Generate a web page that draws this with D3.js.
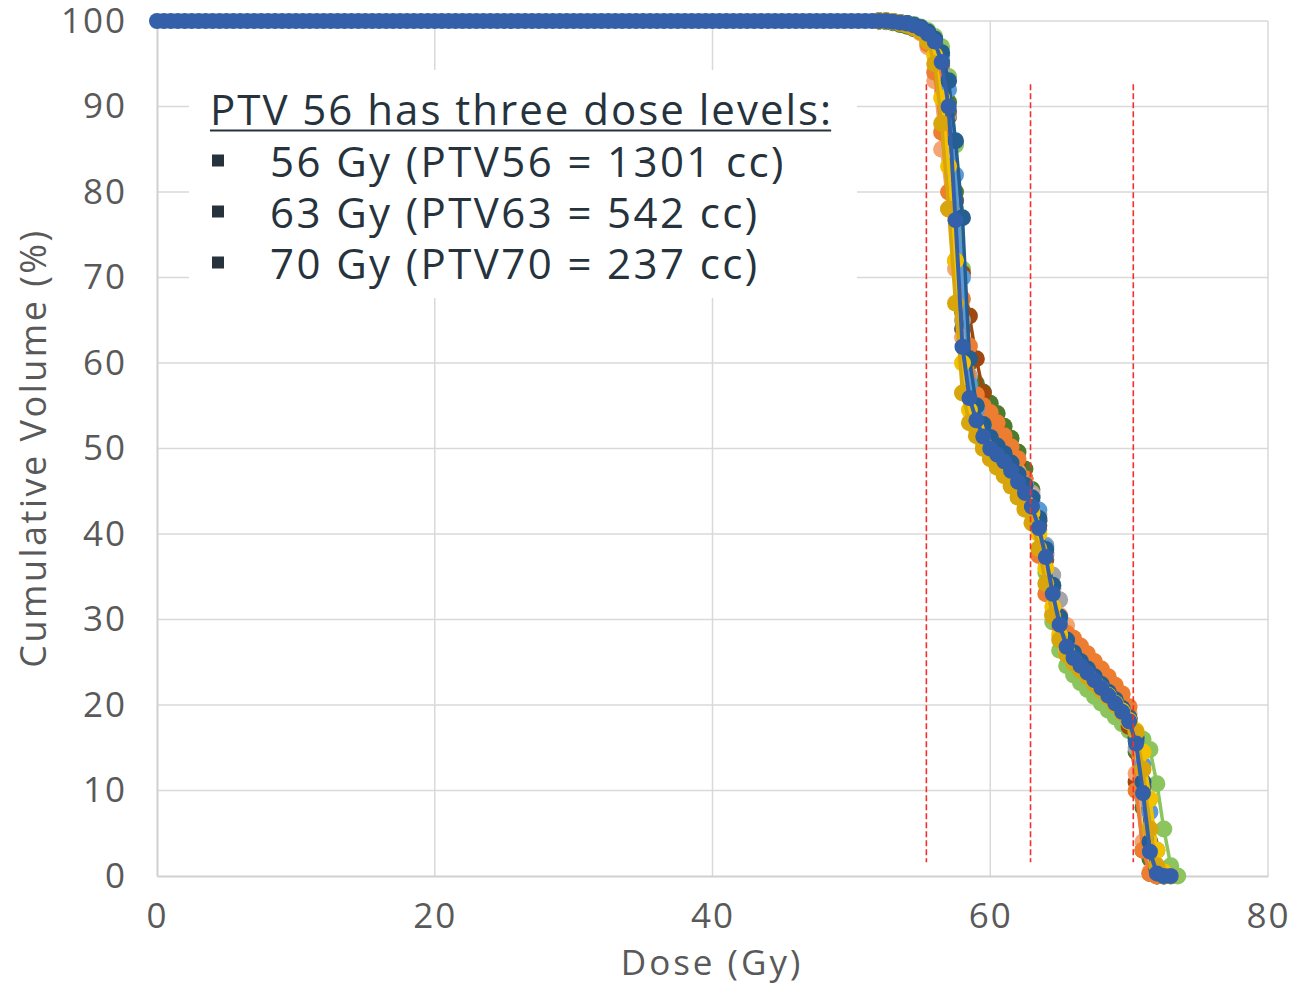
<!DOCTYPE html>
<html>
<head>
<meta charset="utf-8">
<script src="https://cdn.jsdelivr.net/npm/d3@7"></script>
<style>
body { margin: 0; background: #fff; }
svg { display: block; font-family: "Open Sans", sans-serif; }
</style>
</head>
<body>
<svg id="chart" width="1296" height="986"></svg>
<script>
(function () {
'use strict';

// dose grid (Gy)
var plateauDose = [0,0.5,1,1.5,2,2.5,3,3.5,4,4.5,5,5.5,6,6.5,7,7.5,8,8.5,9,9.5,
	10,10.5,11,11.5,12,12.5,13,13.5,14,14.5,15,15.5,16,16.5,17,17.5,18,18.5,19,19.5,
	20,20.5,21,21.5,22,22.5,23,23.5,24,24.5,25,25.5,26,26.5,27,27.5,28,28.5,29,29.5,
	30,30.5,31,31.5,32,32.5,33,33.5,34,34.5,35,35.5,36,36.5,37,37.5,38,38.5,39,39.5,
	40,40.5,41,41.5,42,42.5,43,43.5,44,44.5,45,45.5,46,46.5,47,47.5,48,48.5,49,49.5,
	50,50.5,51,51.5];
var plateauVol = [100,100,100,100,100,100,100,100,100,100,100,100,100,
	100,100,100,100,100,100,100,100,100,100,100,100,100,
	100,100,100,100,100,100,100,100,100,100,100,100,100,
	100,100,100,100,100,100,100,100,100,100,100,100,100,
	100,100,100,100,100,100,100,100,100,100,100,100,100,
	100,100,100,100,100,100,100,100,100,100,100,100,100,
	100,100,100,100,100,100,100,100,100,100,100,100,100,
	100,100,100,100,100,100,100,100,100,100,100,100,100];
var tailDose = [52,52.5,53,53.5,54,54.5,55,55.5,56,56.5,57,57.5,58,58.5,59,59.5,
	60,60.5,61,61.5,62,62.5,63,63.5,64,64.5,65,65.5,66,66.5,67,67.5,68,68.5,69,69.5,
	70,70.5,71,71.5,72,72.5,73,73.5,74];

// cumulative volume (%) of the plans, from 52 Gy on
var greenVol = [100,100,99.9,99.8,99.7,99.6,99.3,98.9,98.2,97.0,93.5,85.5,71.0,60.0,56.0,53.5,
	51.7,50.5,49.4,48.3,47.1,45.8,44.2,40.5,35.5,29.7,26.4,24.6,23.5,22.6,21.8,21.0,20.2,19.4,18.6,17.8,
	17.0,16.6,16.0,14.8,10.8,5.5,1.2,0];
var darkGreenVol = [100,99.9,99.8,99.6,99.4,99.1,98.7,98.2,97.3,95.3,90.5,80.0,66.0,60.0,57.6,56.6,
	55.3,54.1,52.6,51.2,49.6,47.6,45.2,41.6,37.6,33.6,30.2,27.6,25.9,24.9,24.0,23.1,22.2,21.3,20.4,19.4,
	18.2,14.5,8.0,2.0,0];
var brownVol = [100,100,99.9,99.8,99.6,99.3,98.9,98.3,97.2,94.8,88.8,79.0,70.5,65.5,60.5,56.5,
	54.0,52.5,51.0,49.6,48.2,46.5,44.5,41.0,37.0,33.0,30.0,27.6,26.0,25.0,24.1,23.2,22.3,21.4,20.5,19.5,
	17.5,11.0,3.0,0.3,0];
var grayVol = [100,100,99.9,99.8,99.6,99.4,99.0,98.3,97.2,94.5,89.0,78.0,65.0,58.5,55.3,53.5,
	52.2,51.0,49.8,48.6,47.3,46.0,44.8,42.3,38.7,35.2,32.3,28.5,26.0,24.8,23.9,23.0,22.1,21.2,20.3,19.3,
	18.3,15.0,9.0,3.0,0.5,0];
var darkGrayVol = [100,100,99.9,99.8,99.6,99.4,99.0,98.4,97.4,95.0,89.5,79.0,64.0,57.0,54.2,52.4,
	51.0,50.0,49.1,48.0,46.8,45.4,43.9,41.5,37.8,33.8,30.0,27.4,26.0,25.0,24.1,23.2,22.3,21.4,20.5,19.5,
	18.3,15.8,10.5,3.5,0.6,0];
var lightOrangeVol = [100,100,99.9,99.8,99.6,99.2,98.6,97.0,93.0,85.0,78.0,71.0,63.0,57.0,54.5,52.9,
	51.6,50.5,49.5,48.4,47.2,45.9,44.5,42.0,37.5,33.5,30.5,29.3,27.0,26.0,25.1,24.2,23.3,22.4,21.5,20.5,
	19.0,12.0,4.0,0.5,0];
var orangeVol = [100,100,99.9,99.8,99.6,99.3,98.8,97.3,94.0,87.0,80.0,72.0,67.5,62.0,56.3,55.0,
	54.2,53.0,51.5,50.2,48.8,46.5,43.0,37.5,33.0,30.6,29.2,28.4,27.8,26.9,26.0,25.1,24.2,23.3,22.3,21.3,
	19.8,10.0,3.0,0.3,0];
var lightBlueVol = [100,100,99.9,99.8,99.7,99.5,99.2,98.6,97.8,96.0,92.0,82.0,70.0,57.5,54.5,52.3,
	50.8,49.8,48.9,47.9,46.8,45.6,44.3,42.8,38.5,34.0,30.0,27.5,25.8,24.8,24.0,23.1,22.2,21.3,20.4,19.4,
	18.3,16.2,13.0,7.5,3.0,0.5,0];
var darkBlueVol = [100,100,99.9,99.8,99.7,99.5,99.2,98.7,97.9,96.3,93.0,86.0,77.0,60.5,55.0,52.8,
	51.3,50.3,49.4,48.3,47.0,45.7,44.2,41.8,38.2,34.0,30.3,27.6,26.1,25.1,24.2,23.3,22.4,21.5,20.6,19.6,
	18.5,16.2,11.0,4.0,0.8,0];
var yellowVol = [100,100,99.9,99.8,99.6,99.3,98.9,98.0,96.0,91.0,83.0,72.0,60.0,54.5,52.3,50.6,
	49.4,48.4,47.5,46.4,45.2,43.8,42.5,40.0,36.0,31.5,28.2,26.3,25.2,24.3,23.5,22.7,21.9,21.1,20.2,19.3,
	18.2,17.0,14.5,9.0,3.0,0.5,0];
var goldVol = [100,100,99.9,99.7,99.5,99.2,98.7,97.6,95.0,88.0,78.0,67.0,56.5,53.0,51.5,50.0,
	48.8,47.8,46.8,45.6,44.3,42.9,41.3,38.3,34.2,30.4,27.6,25.9,24.9,24.1,23.3,22.5,21.7,20.9,20.0,19.1,
	18.0,16.8,12.5,5.5,1.2,0];
var mainTailVol = [100,100,99.9,99.8,99.7,99.5,99.1,98.5,97.6,95.2,90.0,76.7,61.9,55.9,53.3,51.4,
	50.0,49.3,48.5,47.4,46.1,44.8,43.2,40.7,37.3,33.0,29.4,26.8,25.5,24.6,23.8,22.9,22.0,21.1,20.2,19.2,
	18.1,15.5,9.7,2.85,0.3,0,0];

var seriesColors = ['#8cc45e', '#4b7b2d', '#9e480e', '#a5a5a5', '#636363', '#f4a574', '#ed7d31',
	'#5b9bd5', '#255e91', '#f2c200', '#d9a50c'];
var seriesVols = [greenVol, darkGreenVol, brownVol, grayVol, darkGrayVol, lightOrangeVol, orangeVol,
	lightBlueVol, darkBlueVol, yellowVol, goldVol];
var mainColor = '#3360a9';

// prescription reference lines
var refDose = [55.4, 62.9, 70.3];
var refTop = 92.6;
var refBottom = 1.6;

var xTicks = [0, 20, 40, 60, 80];
var yTicks = [0, 10, 20, 30, 40, 50, 60, 70, 80, 90, 100];

var noteTitle = 'PTV 56 has three dose levels:';
var noteLines = ['56 Gy (PTV56 = 1301 cc)', '63 Gy (PTV63 = 542 cc)', '70 Gy (PTV70 = 237 cc)'];

var svg = d3.select('#chart');
var x = d3.scaleLinear().domain([0, 80]).range([157, 1268]);
var y = d3.scaleLinear().domain([0, 100]).range([876, 21]);

// grid
svg.append('g').selectAll('line')
	.data(yTicks.filter(function(d){ return d > 0; }))
	.enter().append('line')
	.attr('x1', x(0)).attr('x2', x(80))
	.attr('y1', function(d){ return y(d); }).attr('y2', function(d){ return y(d); })
	.attr('stroke', '#d9d9d9').attr('stroke-width', 1.5);
svg.append('g').selectAll('line')
	.data(xTicks.filter(function(d){ return d > 0; }))
	.enter().append('line')
	.attr('y1', y(0)).attr('y2', y(100))
	.attr('x1', function(d){ return x(d); }).attr('x2', function(d){ return x(d); })
	.attr('stroke', '#d9d9d9').attr('stroke-width', 1.5);

// axes
var yAxis = svg.append('g')
	.attr('transform', 'translate(' + x(0) + ',0)')
	.call(d3.axisLeft(y).tickValues(yTicks).tickSize(0).tickSizeOuter(0).tickPadding(30));
var xAxis = svg.append('g')
	.attr('transform', 'translate(0,' + y(0) + ')')
	.call(d3.axisBottom(x).tickValues(xTicks).tickSize(0).tickSizeOuter(0).tickPadding(27));
[xAxis, yAxis].forEach(function(a){
	a.select('.domain').attr('stroke', '#d0d0d0').attr('stroke-width', 2);
	a.selectAll('text')
		.style('font-family', '"Open Sans", sans-serif')
		.style('font-size', '35px')
		.style('letter-spacing', '2px')
		.attr('fill', '#595959');
});

svg.append('text')
	.attr('x', 712).attr('y', 975)
	.attr('text-anchor', 'middle')
	.style('font-size', '35px').style('letter-spacing', '3px')
	.attr('fill', '#595959')
	.text('Dose (Gy)');
svg.append('text')
	.attr('transform', 'translate(46,448) rotate(-90)')
	.attr('text-anchor', 'middle')
	.style('font-size', '36px').style('letter-spacing', '2.5px')
	.attr('fill', '#595959')
	.text('Cumulative Volume (%)');

// note box
svg.append('rect')
	.attr('x', 189).attr('y', 70).attr('width', 668).attr('height', 228)
	.attr('fill', '#fff');
var title = svg.append('text')
	.attr('x', 210).attr('y', 125)
	.style('font-size', '42px').style('letter-spacing', '2px')
	.attr('fill', '#26333d')
	.text(noteTitle);
var tw = title.node().getComputedTextLength();
svg.append('line')
	.attr('x1', 210).attr('x2', 210 + tw - 2)
	.attr('y1', 130.5).attr('y2', 130.5)
	.attr('stroke', '#26333d').attr('stroke-width', 1.8);
noteLines.forEach(function(t, i){
	svg.append('rect')
		.attr('x', 212).attr('y', 154.5 + i * 51).attr('width', 12).attr('height', 12)
		.attr('fill', '#26333d');
	svg.append('text')
		.attr('x', 270).attr('y', 177 + i * 51)
		.style('font-size', '42px').style('letter-spacing', '2.4px')
		.attr('fill', '#26333d')
		.text(t);
});

// curves
var line = d3.line()
	.x(function(d){ return x(d[0]); })
	.y(function(d){ return y(d[1]); });

function drawSeries(pts, color, r, w){
	var g = svg.append('g');
	g.append('path').datum(pts)
		.attr('d', line)
		.attr('fill', 'none')
		.attr('stroke', color)
		.attr('stroke-width', w);
	g.selectAll('circle').data(pts).enter().append('circle')
		.attr('cx', function(d){ return x(d[0]); })
		.attr('cy', function(d){ return y(d[1]); })
		.attr('r', r)
		.attr('fill', color);
}

seriesVols.forEach(function(v, k){
	var pts = v.map(function(d, i){ return [tailDose[i], d]; });
	drawSeries(pts, seriesColors[k], 8.5, 3.5);
});

var mainDose = plateauDose.concat(tailDose.slice(0, mainTailVol.length));
var mainVol = plateauVol.concat(mainTailVol);
drawSeries(mainDose.map(function(d, i){ return [d, mainVol[i]]; }), mainColor, 8, 4);

// reference dose lines
svg.append('g').selectAll('line')
	.data(refDose)
	.enter().append('line')
	.attr('x1', function(d){ return x(d); }).attr('x2', function(d){ return x(d); })
	.attr('y1', y(refTop)).attr('y2', y(refBottom))
	.attr('stroke', '#f2302e').attr('stroke-width', 1.6)
	.attr('stroke-dasharray', '6,3');

})();
</script>
</body>
</html>
